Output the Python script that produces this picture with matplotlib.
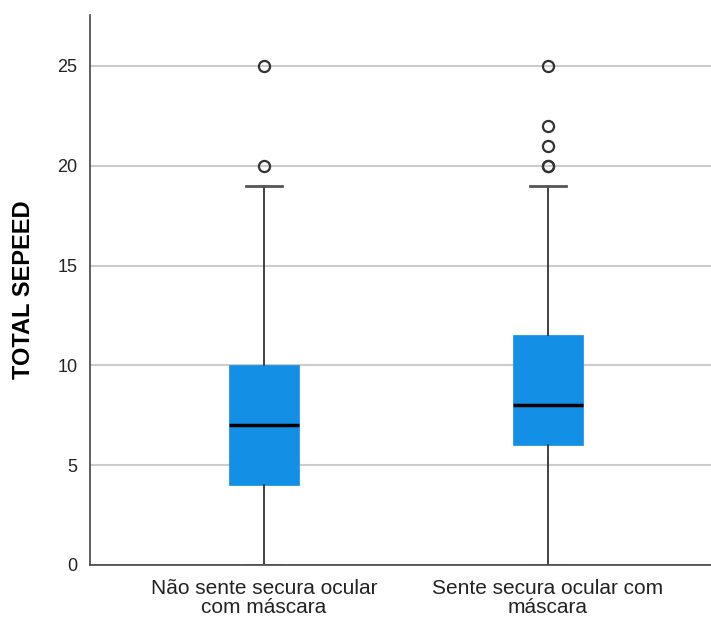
import matplotlib.pyplot as plt

plt.rcParams['font.family'] = ['Liberation Sans', 'DejaVu Sans']

# Box statistics for each group
groups = ["Não sente secura ocular\ncom máscara", "Sente secura ocular com\nmáscara"]
q1 = [4, 6]
medians = [7, 8]
q3 = [10, 11.5]
whisker_low = [0, 0]
whisker_high = [19, 19]
outliers = [[20, 25], [20, 20, 21, 22, 25]]

stats = []
for i in range(len(groups)):
    stats.append({
        "label": groups[i],
        "q1": q1[i],
        "med": medians[i],
        "q3": q3[i],
        "whislo": whisker_low[i],
        "whishi": whisker_high[i],
        "fliers": outliers[i],
    })

fig = plt.figure(figsize=(7.11, 6.18), dpi=100)
ax = fig.add_axes([0.1266, 0.0858, 0.8734, 0.8899])

box_color = "#148FE6"
ax.bxp(
    stats,
    positions=[1, 2],
    widths=0.246,
    capwidths=0.127,
    patch_artist=True,
    boxprops=dict(facecolor=box_color, edgecolor=box_color, linewidth=0.5),
    medianprops=dict(color="black", linewidth=2.5),
    whiskerprops=dict(color="#333333", linewidth=1.3),
    capprops=dict(color="#555555", linewidth=2),
    flierprops=dict(marker="o", markersize=8, markerfacecolor="none",
                    markeredgecolor="#333333", markeredgewidth=1.6),
    zorder=3,
)

ax.set_xlim(0.387, 2.574)
ax.set_ylim(0, 27.55)
ax.set_yticks([0, 5, 10, 15, 20, 25])
ax.yaxis.grid(True, color="#cccccc", linewidth=1.5, zorder=0)
ax.set_axisbelow(True)

for side in ["top", "right"]:
    ax.spines[side].set_visible(False)
for side in ["left", "bottom"]:
    ax.spines[side].set_color("#444444")
    ax.spines[side].set_linewidth(1.2)

ax.tick_params(axis="y", length=0, pad=9, labelsize=13, labelcolor="#222222")
ax.tick_params(axis="x", length=0, pad=10, labelsize=15, labelcolor="#222222")
for lbl in ax.get_xticklabels():
    lbl.set_linespacing(1.0)

ax.set_ylabel("TOTAL SEPEED", fontsize=17, fontweight="bold", labelpad=16)

plt.savefig("out.png", dpi=100)
